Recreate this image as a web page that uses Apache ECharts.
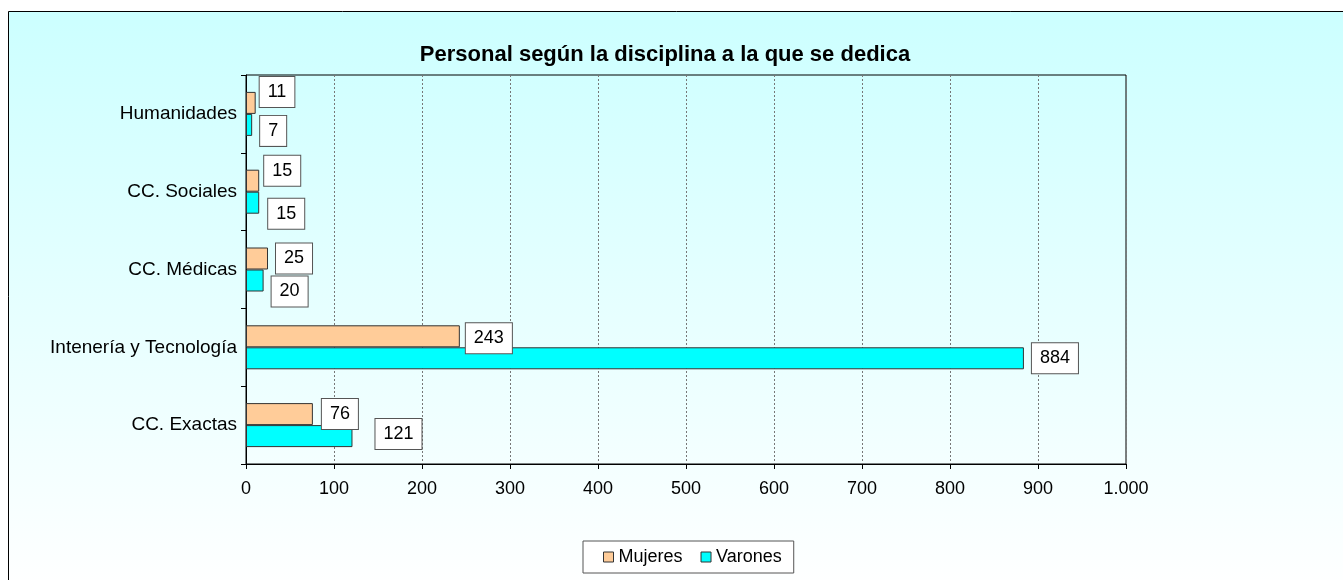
<!DOCTYPE html>
<html>
<head>
<meta charset="utf-8">
<script src="https://cdn.jsdelivr.net/npm/echarts@6/dist/echarts.min.js"></script>
<style>
  html, body { margin: 0; padding: 0; background: #fff; }
  #chart-container { width: 1343px; height: 580px; }
</style>
</head>
<body>
<div id="chart-container"></div>
<script>
// Datos del gráfico (de abajo hacia arriba, como en el eje)
const categorias = ['CC. Exactas', 'Intenería y Tecnología', 'CC. Médicas', 'CC. Sociales', 'Humanidades'];
const mujeres = [76, 243, 25, 15, 11];
const varones = [121, 884, 20, 15, 7];

// Desplazamientos de las etiquetas (colocadas a mano en el original)
const offMujeres = [[9, 0], [6, 2], [8, 0], [5, -10], [4, -11]];
const offVarones = [[23, -2], [8, 0], [8, 11], [9, 11], [8, 6]];

const fuente = 'Arial, "Liberation Sans", sans-serif';

const etiqueta = {
    show: true,
    position: 'right',
    distance: 0,
    color: '#000',
    fontSize: 18,
    fontFamily: fuente,
    backgroundColor: '#fff',
    borderColor: '#555',
    borderWidth: 1,
    padding: [6, 8]
};

const armarDatos = (valores, offsets) => valores.map((v, i) => ({
    value: v,
    label: { offset: offsets[i] }
}));

var myChart = echarts.init(document.getElementById('chart-container'));

var option = {
    backgroundColor: '#fff',
    animation: false,
    graphic: [{
        type: 'rect',
        z: -10,
        shape: { x: 8.5, y: 11.5, width: 1345, height: 580 },
        style: {
            fill: new echarts.graphic.LinearGradient(0, 0, 0, 1, [
                { offset: 0, color: '#ccffff' },
                { offset: 1, color: '#ffffff' }
            ]),
            stroke: '#000',
            lineWidth: 1
        }
    }],
    title: {
        text: 'Personal según la disciplina a la que se dedica',
        left: 660,
        textAlign: 'center',
        top: 39,
        textStyle: { fontSize: 22, fontWeight: 'bold', color: '#000', fontFamily: fuente }
    },
    legend: {
        data: ['Mujeres', 'Varones'],
        left: 583,
        top: 541,
        icon: 'rect',
        itemWidth: 10,
        itemHeight: 10,
        itemGap: 18,
        padding: [7, 12, 7, 20],
        borderColor: '#555',
        borderWidth: 1,
        backgroundColor: '#fff',
        itemStyle: { borderColor: '#333', borderWidth: 1 },
        textStyle: { fontSize: 18, color: '#000', fontFamily: fuente }
    },
    grid: {
        left: 246,
        right: 217,
        top: 75,
        bottom: 116,
        show: true,
        borderColor: '#000',
        borderWidth: 1,
        backgroundColor: 'transparent'
    },
    xAxis: {
        type: 'value',
        min: 0,
        max: 1000,
        interval: 100,
        axisLine: { show: true, lineStyle: { color: '#000', width: 1 } },
        axisTick: { show: true, length: 5, lineStyle: { color: '#000' } },
        axisLabel: {
            margin: 16,
            fontSize: 18,
            color: '#000',
            fontFamily: fuente,
            formatter: v => v >= 1000 ? (v / 1000) + '.000' : String(v)
        },
        splitLine: { show: true, lineStyle: { color: '#777', type: [2, 2], width: 1 } }
    },
    yAxis: {
        type: 'category',
        data: categorias,
        axisLine: { show: true, lineStyle: { color: '#000', width: 1 } },
        axisTick: { show: true, length: 5, lineStyle: { color: '#000' } },
        axisLabel: { margin: 9, fontSize: 19, color: '#000', fontFamily: fuente },
        splitLine: { show: false }
    },
    series: [
        {
            name: 'Mujeres',
            type: 'bar',
            barWidth: 22,
            barGap: '0%',
            itemStyle: { color: '#ffcc99', borderColor: '#333', borderWidth: 1 },
            label: etiqueta,
            data: armarDatos(mujeres, offMujeres)
        },
        {
            name: 'Varones',
            type: 'bar',
            barWidth: 22,
            barGap: '0%',
            itemStyle: { color: '#00ffff', borderColor: '#333', borderWidth: 1 },
            label: etiqueta,
            data: armarDatos(varones, offVarones)
        }
    ]
};

myChart.setOption(option);
</script>
</body>
</html>
